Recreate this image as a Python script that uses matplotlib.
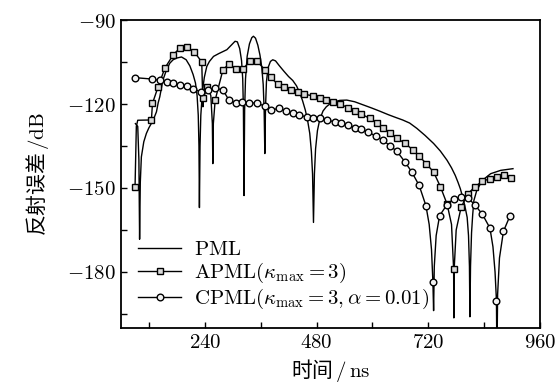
import matplotlib
matplotlib.use('Agg')
import matplotlib.pyplot as plt
from matplotlib.ticker import FixedLocator, FuncFormatter

plt.rcParams['mathtext.fontset'] = 'cm'
plt.rcParams['font.family'] = ['DejaVu Serif']

# PML reflection error (time in ns, error in dB)
pml_t = [91, 96, 98.5, 100, 101.5, 103.8, 109, 114.6, 120, 125.4, 131, 136.2, 140, 143.4, 150,
         157.8, 165, 172, 179.4, 190, 200, 208, 215, 220, 223.5, 226, 227.5, 228.5, 229.8, 231.5,
         235, 239, 244.3, 250, 258.8, 270, 287.5, 298, 305, 310, 315, 319, 321.5, 323, 324.3,
         325.6, 327.5, 331, 336, 341, 344.5, 349, 354, 358.5, 362.5, 365.5, 367.5, 369, 370.5,
         372.5, 376, 381, 386, 392, 400, 410, 420, 429, 437, 444, 450, 456, 461, 465.5, 469,
         471.5, 473.5, 475.5, 478, 482, 487, 494, 501, 510, 519, 530, 545, 562, 580, 598, 615,
         634, 650, 665, 680, 695.5, 713, 731.5, 746, 760.4, 770, 778, 784, 789, 796, 800, 803.6,
         806.5, 808.5, 809.5, 810.8, 813, 815.5, 818, 824, 832, 842, 854, 875.6, 902]
pml_db = [-127, -128, -140, -168.3, -148, -138.9, -133.5, -130.5, -128.5, -126.9, -125, -122.8,
          -119.5, -117.4, -111.5, -107.8, -105.4, -104.2, -103.6, -103.2, -104.2, -106.4, -109.5,
          -112.5, -117, -124, -135, -157, -135, -124, -115.5, -110.5, -106.6, -104.8, -103, -102,
          -100.6, -98.8, -97.6, -97.8, -100.2, -104.5, -111, -122, -152.7, -122, -111, -103, -98.5,
          -96.3, -95.8, -96.5, -99, -102.5, -107, -113, -122, -137.7, -121, -112, -107, -104.8,
          -104.2, -104.6, -106.3, -108.3, -110.2, -111.6, -113.5, -116, -118.8, -122.2, -126,
          -130.5, -137, -145, -162.3, -145, -136, -129.5, -125.5, -122.5, -121, -119.8, -119.2,
          -118.7, -118.6, -119.2, -120.3, -121.4, -122.5, -123.8, -124.8, -125.7, -126.8, -128.7,
          -131.2, -134.1, -136.8, -140.1, -142.8, -145.5, -148, -150.3, -154.5, -157.5, -160.5,
          -167, -178, -196, -178, -166, -159.5, -154.5, -151, -148.5, -146.5, -144.9, -143.7, -143.1]

# APML (kappa_max = 3): marked samples
apml_t = [90.2, 125.4, 127.6, 139.9, 154.2, 172.3, 186.6, 201, 217.7, 233.5, 237.2, 245.8, 262.3,
          279, 291.9, 307.7, 322.1, 336.6, 353, 369, 382, 396.4, 410.8, 425.2, 439.6, 454, 472,
          486.5, 501, 515.3, 529.7, 547.7, 562, 576.6, 594.5, 609, 623.3, 637.8, 653, 670, 686.8,
          701, 715.6, 731.5, 746, 760.4, 774.5, 790.6, 805, 819.4, 836, 852.5, 868.5, 883, 897.2]
apml_db = [-149.7, -125.7, -119.8, -113.8, -107.2, -102.4, -100, -99.6, -101.4, -105, -117.8,
           -113.8, -118.6, -107.8, -105.7, -107.5, -107.5, -104.8, -104.8, -107.8, -110.5, -112.9,
           -114, -115, -115.8, -116.5, -117.1, -118, -118.6, -119.2, -120, -121.3, -122.5, -123.7,
           -125.1, -126.7, -128.5, -130.3, -132.2, -134.1, -136.3, -138.7, -141.3, -144.3, -149.5,
           -155.7, -179, -156.9, -152.1, -149.7, -147.6, -146.7, -145.9, -145.5, -146.3]
# APML samples between markers (plateau and dips)
apml_t_extra = [93, 96, 236, 253, 256.3, 257.3, 258.4, 770, 775, 776, 780]
apml_db_extra = [-128, -125.8, -121, -117, -127, -141.3, -127, -163, -196.4, -178, -165]

# CPML (kappa_max = 3, alpha = 0.01): marked samples
cpml_t = [91, 127.6, 143.4, 157.8, 172.3, 186.6, 201, 215.5, 231.4, 248, 262.3, 279, 291.9,
          306.3, 320.7, 335.1, 353, 369, 382, 400, 414.4, 428.8, 443.2, 459, 473.5, 488, 502.3,
          519, 533.4, 547.7, 562, 576.6, 591, 607.5, 623.3, 637.8, 652.3, 670, 684.7, 700.5, 715,
          730, 744.4, 760.4, 774.7, 790.6, 805, 819.4, 836, 852.5, 866.5, 881.5, 895.7]
cpml_db = [-110.6, -111.1, -111.6, -112.2, -112.5, -113.1, -113.7, -114.7, -115.6, -115, -114.3,
           -115, -118.6, -119.5, -119.2, -119.5, -119.8, -120.7, -122.2, -121.5, -122.5, -123.3,
           -124, -124.6, -124.9, -125.1, -125.7, -126.4, -126.9, -127.5, -128.4, -129.1, -130,
           -131.5, -132.9, -135, -136.8, -140.7, -144.3, -149.1, -156.3, -183.6, -159.9, -155.9,
           -153.9, -153.3, -153.5, -155.9, -159.3, -164.3, -190.2, -165.5, -159.9]
cpml_t_extra = [722, 727, 731.5, 733, 737, 859, 863.5, 867.5, 869, 873]
cpml_db_extra = [-163, -172, -193.8, -178, -167, -171, -180, -212, -188, -175]


def merged(t, db, t_extra, db_extra):
    pts = [(a, b, True) for a, b in zip(t, db)] + [(a, b, False) for a, b in zip(t_extra, db_extra)]
    pts.sort(key=lambda p: p[0])
    xs = [p[0] for p in pts]
    ys = [p[1] for p in pts]
    marks = [i for i, p in enumerate(pts) if p[2]]
    return xs, ys, marks


fig = plt.figure(figsize=(5.58, 3.87), dpi=100)
ax = fig.add_axes([0.2168, 0.1525, 0.7509, 0.7958])

ax.plot(pml_t, pml_db, '-', color='black', lw=1.0, label=r'$\mathrm{PML}$')

x, y, m = merged(apml_t, apml_db, apml_t_extra, apml_db_extra)
ax.plot(x, y, '-s', color='black', lw=1.0, markevery=m, ms=4.3, mfc='#d9d9d9', mec='black',
        mew=1.0, label=r'$\mathrm{APML}(\kappa_{\max}=3)$')

x, y, m = merged(cpml_t, cpml_db, cpml_t_extra, cpml_db_extra)
ax.plot(x, y, '-o', color='black', lw=1.0, markevery=m, ms=4.8, mfc='#f2f2f2', mec='black',
        mew=1.0, label=r'$\mathrm{CPML}(\kappa_{\max}=3,\alpha=0.01)$')

ax.set_xlim(60, 960)
ax.set_ylim(-200, -90)
ax.xaxis.set_major_locator(FixedLocator([240, 480, 720, 960]))
ax.xaxis.set_minor_locator(FixedLocator([120, 360, 600, 840]))
ax.yaxis.set_major_locator(FixedLocator([-180, -150, -120, -90]))
ax.yaxis.set_minor_locator(FixedLocator([-195, -165, -135, -105]))
fmt = FuncFormatter(lambda v, p: r'$%d$' % v)
ax.xaxis.set_major_formatter(fmt)
ax.yaxis.set_major_formatter(fmt)
ax.tick_params(which='both', direction='in', top=False, right=False, labelsize=15, width=1.0)
ax.tick_params(which='major', length=4)
ax.tick_params(which='minor', length=4)
for s in ax.spines.values():
    s.set_linewidth(1.3)

ax.set_xlabel('时间$\\,/\\,\\mathrm{ns}$', family=['Noto Sans CJK SC'], fontsize=15, labelpad=4)
ax.set_ylabel('反射误差$\\,/\\mathrm{dB}$', family=['Noto Sans CJK SC'], fontsize=15, labelpad=12)

ax.legend(loc='lower left', frameon=False, fontsize=15, handlelength=2.1, handletextpad=0.6,
          labelspacing=0.1, borderaxespad=0.4)

fig.savefig('out.png', dpi=100)
